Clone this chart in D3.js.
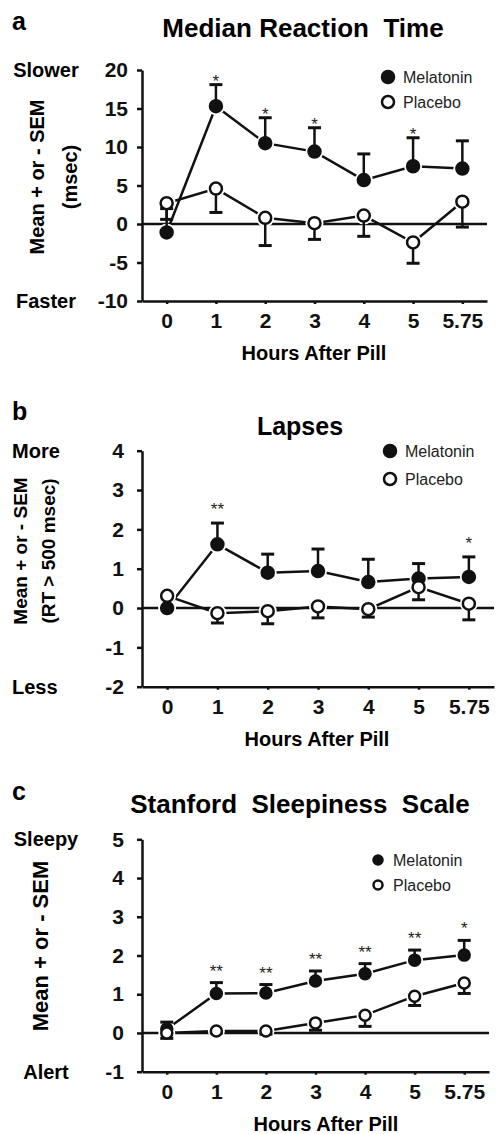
<!DOCTYPE html>
<html>
<head>
<meta charset="utf-8">
<script src="https://cdn.jsdelivr.net/npm/d3@7"></script>
<style>
  body { margin: 0; background: #fff; }
  svg { display: block; font-family: Arial, "Liberation Sans", sans-serif; }
</style>
</head>
<body>
<div id="chart"></div>
<script>
// Shared x categories
const hours = ["0", "1", "2", "3", "4", "5", "5.75"];

// a: median reaction time (msec)
const rtMel = [-1.1, 15.3, 10.5, 9.4, 5.7, 7.5, 7.2];
const rtMelSem = [3.1, 2.8, 3.3, 3.1, 3.4, 3.7, 3.6];
const rtPla = [2.7, 4.6, 0.8, 0.1, 1.1, -2.4, 2.9];
const rtPlaSem = [2.1, 3.1, 3.6, 2.1, 2.7, 2.7, 3.3];
const rtSig = ["", "*", "*", "*", "", "*", ""];
const rtTicks = [-10, -5, 0, 5, 10, 15, 20];

// b: lapses (RT > 500 msec)
const lapMel = [0, 1.62, 0.9, 0.94, 0.66, 0.75, 0.79];
const lapMelSem = [0, 0.54, 0.47, 0.56, 0.58, 0.38, 0.51];
const lapPla = [0.31, -0.13, -0.08, 0.04, -0.03, 0.53, 0.11];
const lapPlaSem = [0, 0.25, 0.32, 0.29, 0.2, 0.32, 0.41];
const lapSig = ["", "**", "", "", "", "", "*"];
const lapTicks = [-2, -1, 0, 1, 2, 3, 4];

// c: Stanford sleepiness scale
const sssMel = [0.1, 1.02, 1.03, 1.34, 1.53, 1.88, 2.01];
const sssMelSem = [0.18, 0.28, 0.22, 0.26, 0.26, 0.26, 0.38];
const sssPla = [0, 0.05, 0.05, 0.26, 0.46, 0.95, 1.29];
const sssPlaSem = [0.14, 0.05, 0.08, 0.19, 0.29, 0.24, 0.27];
const sssSig = ["", "**", "**", "**", "**", "**", "*"];
const sssTicks = [-1, 0, 1, 2, 3, 4, 5];

const seriesNames = ["Melatonin", "Placebo"];

const svg = d3.select("#chart")
  .append("svg")
  .attr("width", 501)
  .attr("height", 1134);

const panels = [
  {
    letter: "a", letterY: 30, title: "Median Reaction\u00a0 Time", titleX: 303, titleY: 37, titleSize: 26,
    mel: rtMel, melSem: rtMelSem, pla: rtPla, plaSem: rtPlaSem, sig: rtSig, ticks: rtTicks,
    top: 70, bottom: 301, right: 487, tickPad: 9,
    hiLabel: "Slower", loLabel: "Faster", sideX: 46, sideAnchor: "middle",
    yLabel: ["Mean + or - SEM", "(msec)"], yLabelX: [37, 70], yLabelY: 177, yLabelSize: 20,
    legendX: 388, legendY: 77, legendGap: 25, legendR: 6, r: 6, sigOff: -2,
    xTitleX: 314
  },
  {
    letter: "b", letterY: 420, title: "Lapses", titleX: 300, titleY: 435, titleSize: 25,
    mel: lapMel, melSem: lapMelSem, pla: lapPla, plaSem: lapPlaSem, sig: lapSig, ticks: lapTicks,
    top: 450.7, bottom: 686.7, right: 494, tickPad: 13,
    hiLabel: "More", loLabel: "Less", sideX: 12, sideAnchor: "start",
    yLabel: ["Mean + or - SEM", "(RT > 500 msec)"], yLabelX: [20, 48], yLabelY: 551, yLabelSize: 19,
    legendX: 390, legendY: 451, legendGap: 28, legendR: 6, r: 6, sigOff: 8,
    xTitleX: 317
  },
  {
    letter: "c", letterY: 800, title: "Stanford\u00a0 Sleepiness\u00a0 Scale", titleX: 300, titleY: 813, titleSize: 26,
    mel: sssMel, melSem: sssMelSem, pla: sssPla, plaSem: sssPlaSem, sig: sssSig, ticks: sssTicks,
    top: 839.3, bottom: 1071.7, right: 489, tickPad: 13,
    hiLabel: "Sleepy", loLabel: "Alert", sideX: 46, sideAnchor: "middle",
    yLabel: ["Mean + or - SEM"], yLabelX: [40], yLabelY: 946, yLabelSize: 22,
    legendX: 378, legendY: 860, legendGap: 25, legendR: 4.5, r: 5.5, sigOff: 6,
    xTitleX: 326
  }
];

panels.forEach(drawPanel);

function drawPanel(p) {
  const g = svg.append("g");
  const left = 142;

  const x = d3.scalePoint().domain(hours).range([left, p.right]).padding(0.5);
  const y = d3.scaleLinear()
    .domain([p.ticks[0], p.ticks[p.ticks.length - 1]])
    .range([p.bottom, p.top]);

  // panel letter and title
  g.append("text").attr("x", 12).attr("y", p.letterY)
    .style("font-size", "25px").style("font-weight", "bold").text(p.letter);
  g.append("text").attr("x", p.titleX).attr("y", p.titleY)
    .attr("text-anchor", "middle")
    .style("font-size", p.titleSize + "px").style("font-weight", "bold").text(p.title);

  // y axis
  const yAxis = g.append("g")
    .attr("transform", `translate(${left},0)`)
    .call(d3.axisLeft(y).tickValues(p.ticks).tickSize(5).tickSizeOuter(0)
      .tickPadding(p.tickPad).tickFormat((d) => String(d)));

  // x axis
  const xAxis = g.append("g")
    .attr("transform", `translate(0,${p.bottom})`)
    .call(d3.axisBottom(x).tickSize(3).tickSizeOuter(0).tickPadding(9));

  [yAxis, xAxis].forEach((a) => {
    a.select(".domain").attr("stroke", "#111").attr("stroke-width", 2.5);
    a.selectAll(".tick line").attr("stroke", "#111").attr("stroke-width", 2.5);
    a.selectAll(".tick text")
      .attr("fill", "#111")
      .style("font-size", "21px")
      .style("font-weight", "bold")
      .style("font-family", "Arial, 'Liberation Sans', sans-serif");
  });

  // zero reference line
  g.append("line")
    .attr("x1", left).attr("x2", p.right)
    .attr("y1", y(0)).attr("y2", y(0))
    .attr("stroke", "#111").attr("stroke-width", 2.5);

  // x title
  g.append("text").attr("x", p.xTitleX).attr("y", p.bottom + 59)
    .attr("text-anchor", "middle")
    .style("font-size", "20px").style("font-weight", "bold")
    .text("Hours After Pill");

  // side labels (direction)
  g.append("text").attr("x", p.sideX).attr("y", y(p.ticks[p.ticks.length - 1]))
    .attr("dy", "0.35em").attr("text-anchor", p.sideAnchor)
    .style("font-size", "20px").style("font-weight", "bold").text(p.hiLabel);
  g.append("text").attr("x", p.sideX).attr("y", y(p.ticks[0]))
    .attr("dy", "0.35em").attr("text-anchor", p.sideAnchor)
    .style("font-size", "20px").style("font-weight", "bold").text(p.loLabel);

  // rotated y label
  p.yLabel.forEach((t, i) => {
    g.append("text")
      .attr("transform", `translate(${p.yLabelX[i]},${p.yLabelY}) rotate(-90)`)
      .attr("dy", "0.35em").attr("text-anchor", "middle")
      .style("font-size", p.yLabelSize + "px").style("font-weight", "bold")
      .text(t);
  });

  const line = d3.line().x((d, i) => x(hours[i])).y((d) => y(d));
  const series = [
    { vals: p.mel, sem: p.melSem, dir: 1, fill: "#111" },
    { vals: p.pla, sem: p.plaSem, dir: -1, fill: "#fff" }
  ];

  // connecting lines
  series.forEach((s) => {
    g.append("path").datum(s.vals)
      .attr("d", line)
      .attr("fill", "none")
      .attr("stroke", "#111")
      .attr("stroke-width", 2.5);
  });

  // white halos make the small gaps around markers
  series.forEach((s) => {
    g.selectAll(null).data(s.vals).enter().append("circle")
      .attr("cx", (d, i) => x(hours[i])).attr("cy", (d) => y(d))
      .attr("r", p.r + 3).attr("fill", "#fff");
  });

  // error bars: melatonin up, placebo down
  series.forEach((s) => {
    s.vals.forEach((v, i) => {
      if (!s.sem[i]) return;
      const cx = x(hours[i]);
      const yEnd = y(v + s.dir * s.sem[i]);
      g.append("line")
        .attr("x1", cx).attr("x2", cx).attr("y1", y(v)).attr("y2", yEnd)
        .attr("stroke", "#111").attr("stroke-width", 2.5);
      g.append("line")
        .attr("x1", cx - 6.5).attr("x2", cx + 6.5).attr("y1", yEnd).attr("y2", yEnd)
        .attr("stroke", "#111").attr("stroke-width", 3);
    });
  });

  // markers
  series.forEach((s) => {
    g.selectAll(null).data(s.vals).enter().append("circle")
      .attr("cx", (d, i) => x(hours[i])).attr("cy", (d) => y(d))
      .attr("r", p.r)
      .attr("fill", s.fill)
      .attr("stroke", "#111").attr("stroke-width", 2.5);
  });

  // significance asterisks above melatonin bars
  p.sig.forEach((s, i) => {
    if (!s) return;
    g.append("text")
      .attr("x", x(hours[i])).attr("y", y(p.mel[i] + p.melSem[i]) - p.sigOff)
      .attr("text-anchor", "middle")
      .style("font-size", "17px").attr("fill", "#222")
      .text(s);
  });

  // legend
  seriesNames.forEach((name, i) => {
    const ly = p.legendY + i * p.legendGap;
    g.append("circle")
      .attr("cx", p.legendX).attr("cy", ly).attr("r", p.legendR)
      .attr("fill", i === 0 ? "#111" : "#fff")
      .attr("stroke", "#111").attr("stroke-width", 2.5);
    g.append("text")
      .attr("x", p.legendX + 15).attr("y", ly).attr("dy", "0.35em")
      .style("font-size", "16px").attr("fill", "#222")
      .text(name);
  });
}
</script>
</body>
</html>
